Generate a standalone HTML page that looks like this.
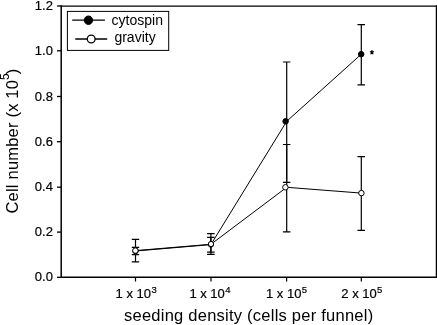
<!DOCTYPE html>
<html><head><meta charset="utf-8">
<style>
html,body{margin:0;padding:0;background:#fff;}
body{width:437px;height:325px;overflow:hidden;}
svg{display:block;will-change:transform;}
text{font-family:"Liberation Sans", sans-serif;fill:#000;}
</style></head>
<body>
<svg width="437" height="325" viewBox="0 0 437 325">
<!-- frame -->
<g stroke="#000" fill="none">
<line x1="61.2" y1="6.2" x2="437" y2="6.2" stroke-width="1.3"/>
<line x1="436.5" y1="5.2" x2="436.5" y2="278" stroke-width="1.5"/>
<line x1="61.2" y1="277.3" x2="437" y2="277.3" stroke-width="1.5"/>
<line x1="61.2" y1="5.2" x2="61.2" y2="278" stroke-width="1.5"/>
<!-- y ticks -->
<g stroke-width="1.3">
<line x1="57" y1="277.3" x2="61" y2="277.3"/>
<line x1="57" y1="232.1" x2="61" y2="232.1"/>
<line x1="57" y1="187.2" x2="61" y2="187.2"/>
<line x1="57" y1="141.7" x2="61" y2="141.7"/>
<line x1="57" y1="96.5" x2="61" y2="96.5"/>
<line x1="57" y1="50.8" x2="61" y2="50.8"/>
<line x1="57" y1="6.0" x2="61" y2="6.0"/>
</g>
<!-- x ticks -->
<g stroke-width="1.2">
<line x1="135.5" y1="277" x2="135.5" y2="281.5"/>
<line x1="211" y1="277" x2="211" y2="281.5"/>
<line x1="286.6" y1="277" x2="286.6" y2="281.5"/>
<line x1="361.3" y1="277" x2="361.3" y2="281.5"/>
</g>
</g>
<!-- y tick labels -->
<g font-size="13" text-anchor="end" stroke="#000" stroke-width="0.2">
<text x="52.9" y="281.3">0.0</text>
<text x="52.9" y="236.1">0.2</text>
<text x="52.9" y="191.2">0.4</text>
<text x="52.9" y="145.7">0.6</text>
<text x="52.9" y="100.5">0.8</text>
<text x="52.9" y="54.8">1.0</text>
<text x="52.9" y="10.0">1.2</text>
</g>
<!-- x tick labels -->
<g font-size="13" stroke="#000" stroke-width="0.2">
<text x="115.6" y="298.3">1 x 10<tspan font-size="9.5" dy="-5.6" dx="0.4">3</tspan></text>
<text x="189.4" y="298.3">1 x 10<tspan font-size="9.5" dy="-5.6" dx="0.4">4</tspan></text>
<text x="266.0" y="298.3">1 x 10<tspan font-size="9.5" dy="-5.6" dx="0.4">5</tspan></text>
<text x="341.3" y="298.3">2 x 10<tspan font-size="9.5" dy="-5.6" dx="0.4">5</tspan></text>
</g>
<!-- axis titles -->
<text x="124" y="321" font-size="16.5" letter-spacing="0.24">seeding density (cells per funnel)</text>
<text transform="translate(17.9,213.5) rotate(-90)" font-size="16.5" letter-spacing="0.2">Cell number (x 10<tspan font-size="12" dy="-8.6">5</tspan><tspan dy="8.6" dx="-1.2">)</tspan></text>

<!-- data lines -->
<g stroke="#000" fill="none" stroke-width="1">
<polyline points="135.5,251 210.9,244.6 286.7,121.3 361.3,54.2"/>
<polyline points="135.5,250.6 210.9,244.3 286.7,187.3 361.4,193.1"/>
</g>
<!-- error bars -->
<g stroke="#000" fill="none" stroke-width="1.2">
<!-- cytospin -->
<path d="M135.5,247.3V254.6M131.8,247.3H139.2M131.8,254.6H139.2"/>
<path d="M210.9,237.3V252.2M207.1,237.3H214.6M207.1,252.2H214.6"/>
<path d="M286.7,62V182.3M282.9,62H290.4M282.9,182.3H290.4"/>
<path d="M361.3,24.6V84.9M357.5,24.6H365M357.5,84.9H365"/>
<!-- gravity -->
<path d="M135.5,239.4V261.8M131.8,239.4H139.2M131.8,261.8H139.2"/>
<path d="M210.9,233.7V254.3M207.1,233.7H214.6M207.1,254.3H214.6"/>
<path d="M286.7,144.5V231.8M282.9,144.5H290.4M282.9,231.8H290.4"/>
<path d="M361.3,156.7V230.4M357.5,156.7H365M357.5,230.4H365"/>
</g>
<!-- markers -->
<g stroke="#000" stroke-width="1">
<circle cx="135.5" cy="251" r="2.75" fill="#000"/>
<circle cx="210.9" cy="244.6" r="2.6" fill="#000"/>
<circle cx="285.6" cy="121.3" r="2.75" fill="#000"/>
<circle cx="361.2" cy="54.2" r="2.75" fill="#000"/>
<circle cx="135.4" cy="250.6" r="2.75" fill="#fff"/>
<circle cx="211" cy="244" r="2.6" fill="#fff"/>
<circle cx="285.4" cy="187.3" r="2.75" fill="#fff"/>
<circle cx="361.4" cy="193.1" r="2.75" fill="#fff"/>
</g>
<path d="M371.9,52.4v-2.3M371.9,52.4l2.1,-0.8M371.9,52.4l-2.1,-0.8M371.9,52.4l1.3,1.9M371.9,52.4l-1.3,1.9" stroke="#000" stroke-width="1.1" fill="none"/>

<!-- legend -->
<rect x="67.4" y="11.4" width="101.3" height="39" fill="#fff" stroke="#000" stroke-width="1"/>
<g stroke="#000" stroke-width="1">
<line x1="72.2" y1="20.1" x2="104.9" y2="20.1" stroke-width="1.4"/>
<circle cx="88.45" cy="20.2" r="4.2" fill="#000"/>
<line x1="75.3" y1="39" x2="107.2" y2="39" stroke-width="1.5"/>
<circle cx="91.2" cy="39" r="3.9" fill="#fff" stroke-width="1.3"/>
</g>
<g font-size="14">
<text x="111.6" y="24.6">cytospin</text>
<text x="114.4" y="41.9">gravity</text>
</g>
</svg>
</body></html>
